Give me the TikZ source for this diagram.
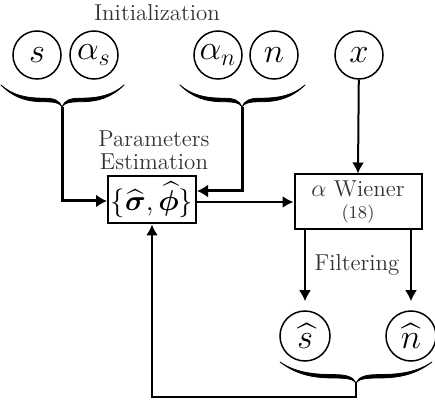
\documentclass[tikz,border=0pt]{standalone}
\usepackage{amsmath,bm}
\usetikzlibrary{arrows.meta}
\begin{document}
\begin{tikzpicture}[x=0.5pt,y=-0.5pt,
  var/.style={circle,draw,line width=0.75pt,minimum size=24pt,inner sep=0pt,font=\fontsize{18}{20}\selectfont},
  lbl/.style={font=\fontsize{11.5}{11.5}\selectfont,text=black!80,align=center,inner sep=0pt},
  blk/.style={draw,line width=1pt,inner sep=1pt,align=center},
  arr/.style={line width=1pt,-{Latex[length=5.5pt,width=6pt]}},
  tarr/.style={line width=1.5pt,-{Latex[length=5.5pt,width=6.5pt]}},
  halfbrace/.pic={
    \filldraw[line width=0.4pt,line join=round] (-1,0) .. controls (-0.8,0.55) and (-0.6,0.76) .. (-0.3,0.76)
      .. controls (-0.12,0.76) and (-0.03,0.82) .. (0,1)
      .. controls (-0.04,0.7) and (-0.12,0.6) .. (-0.3,0.6)
      .. controls (-0.6,0.6) and (-0.82,0.45) .. (-1,0) -- cycle;
  }]
\useasboundingbox (0,0) rectangle (435,401);
\node[lbl] (init) at (157,13) {Initialization};
\node[var] (s) at (37,55) {$s$};
\node[var] (as) at (94,55) {$\alpha_s$};
\node[var] (an) at (218,55) {$\alpha_n$};
\node[var] (n) at (274,55) {$n$};
\node[var] (x) at (359,55) {$x$};
% braces
\coordinate (b1t) at (62,107);
\coordinate (b2t) at (242,107);
\coordinate (b3t) at (356,383);
\pic[xscale=61,yscale=22] at (62,85) {halfbrace};
\pic[xscale=-62,yscale=22] at (62,85) {halfbrace};
\pic[xscale=62,yscale=22] at (242,85) {halfbrace};
\pic[xscale=-63,yscale=22] at (242,85) {halfbrace};
\pic[xscale=76,yscale=21] at (356,362) {halfbrace};
\pic[xscale=-76,yscale=21] at (356,362) {halfbrace};
\node[lbl] (pe) at (154,150) {Parameters\\Estimation};
\node[blk,minimum width=44pt,minimum height=23.5pt,font=\fontsize{13.5}{15}\selectfont] (est) at (152,200)
  {$\{\widehat{\bm\sigma},\widehat{\bm\phi}\}$};
\node[blk,minimum width=63.5pt,minimum height=27.5pt,text=black!80] (wf) at (358,202)
  {{\fontsize{11.5}{12}\selectfont$\alpha$ Wiener}\\[-1pt]{\fontsize{9}{10}\selectfont(18)}};
\draw[tarr] (b1t) |- ([yshift=-0.5pt]est.west);
\draw[tarr] (b2t) |- ([yshift=4.5pt]est.east);
\draw[arr] ([yshift=-1pt]est.east) -- ([yshift=-1pt]est.east -| wf.west);
\draw[arr] (x) -- (wf.north);
\node[lbl] (filt) at (357,265) {Filtering};
\node[var,minimum size=25pt] (sh) at (305,336) {$\widehat{s}$};
\node[var,minimum size=25pt] (nh) at (411,336) {$\widehat{n}$};
\draw[arr,shorten >=4.5pt] (wf.south -| sh) -- (sh.north);
\draw[arr,shorten >=4.5pt] (wf.south -| nh) -- (nh.north);
\draw[arr] (b3t) -- (356,397) -| (est.south);
\end{tikzpicture}
\end{document}
